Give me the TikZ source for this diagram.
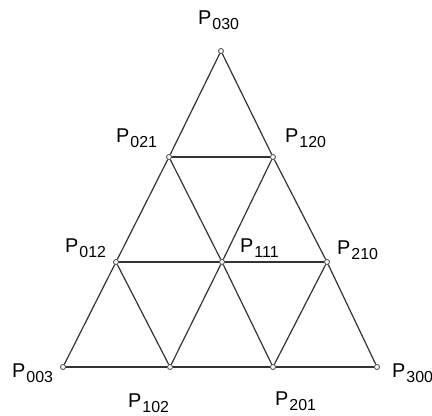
\documentclass[tikz,border=0pt]{standalone}
\usepackage{fontspec}
\setmainfont{Liberation Sans}
\usetikzlibrary{positioning}

\newcommand{\ctrlpt}[1]{P\kern1bp\raisebox{-5bp}{\fontsize{16}{16}\selectfont #1}}

\begin{document}
\begin{tikzpicture}[
        x=1bp, y=1bp,
        font=\fontsize{20}{24}\selectfont,
        cp/.style={draw=black!75, fill=white, circle, inner sep=0pt, minimum size=5bp, line width=0.8bp},
        edge/.style={draw=black!80, line width=1.2bp},
        lbl/.style={anchor=base west, inner sep=0pt}
    ]
        \useasboundingbox (0,0) rectangle (432,416);
        % control points
        \node[cp] (p003) at (63,49) {};
        \node[cp] (p102) at (170,49) {};
        \node[cp] (p201) at (273,49) {};
        \node[cp] (p300) at (377,49) {};
        \node[cp] (p012) at (116,154) {};
        \node[cp] (p111) at (222,154) {};
        \node[cp] (p210) at (327,154) {};
        \node[cp] (p021) at (169,259) {};
        \node[cp] (p120) at (273,259) {};
        \node[cp] (p030) at (221,365) {};
        % outer triangle
        \draw[edge] (p003) -- (p012);
        \draw[edge] (p012) -- (p021);
        \draw[edge] (p021) -- (p030);
        \draw[edge] (p030) -- (p120);
        \draw[edge] (p120) -- (p210);
        \draw[edge] (p210) -- (p300);
        \draw[edge] (p003) -- (p102);
        \draw[edge] (p102) -- (p201);
        \draw[edge] (p201) -- (p300);
        % inner grid
        \draw[edge] (p021) -- (p120);
        \draw[edge] (p012) -- (p111);
        \draw[edge] (p111) -- (p210);
        \draw[edge] (p102) -- (p111);
        \draw[edge] (p111) -- (p120);
        \draw[edge] (p201) -- (p210);
        \draw[edge] (p021) -- (p111);
        \draw[edge] (p111) -- (p201);
        \draw[edge] (p012) -- (p102);
        % labels
        \node[lbl] (l030) at (198,391) {\ctrlpt{030}};
        \node[lbl] (l021) at (116,274) {\ctrlpt{021}};
        \node[lbl] (l120) at (285,274) {\ctrlpt{120}};
        \node[lbl] (l012) at (65,164) {\ctrlpt{012}};
        \node[lbl] (l111) at (240,164) {\ctrlpt{111}};
        \node[lbl] (l210) at (337,162) {\ctrlpt{210}};
        \node[lbl] (l003) at (12,39) {\ctrlpt{003}};
        \node[lbl] (l102) at (128,9) {\ctrlpt{102}};
        \node[lbl] (l201) at (275,11) {\ctrlpt{201}};
        \node[lbl] (l300) at (392,39) {\ctrlpt{300}};
    \end{tikzpicture}
\end{document}
